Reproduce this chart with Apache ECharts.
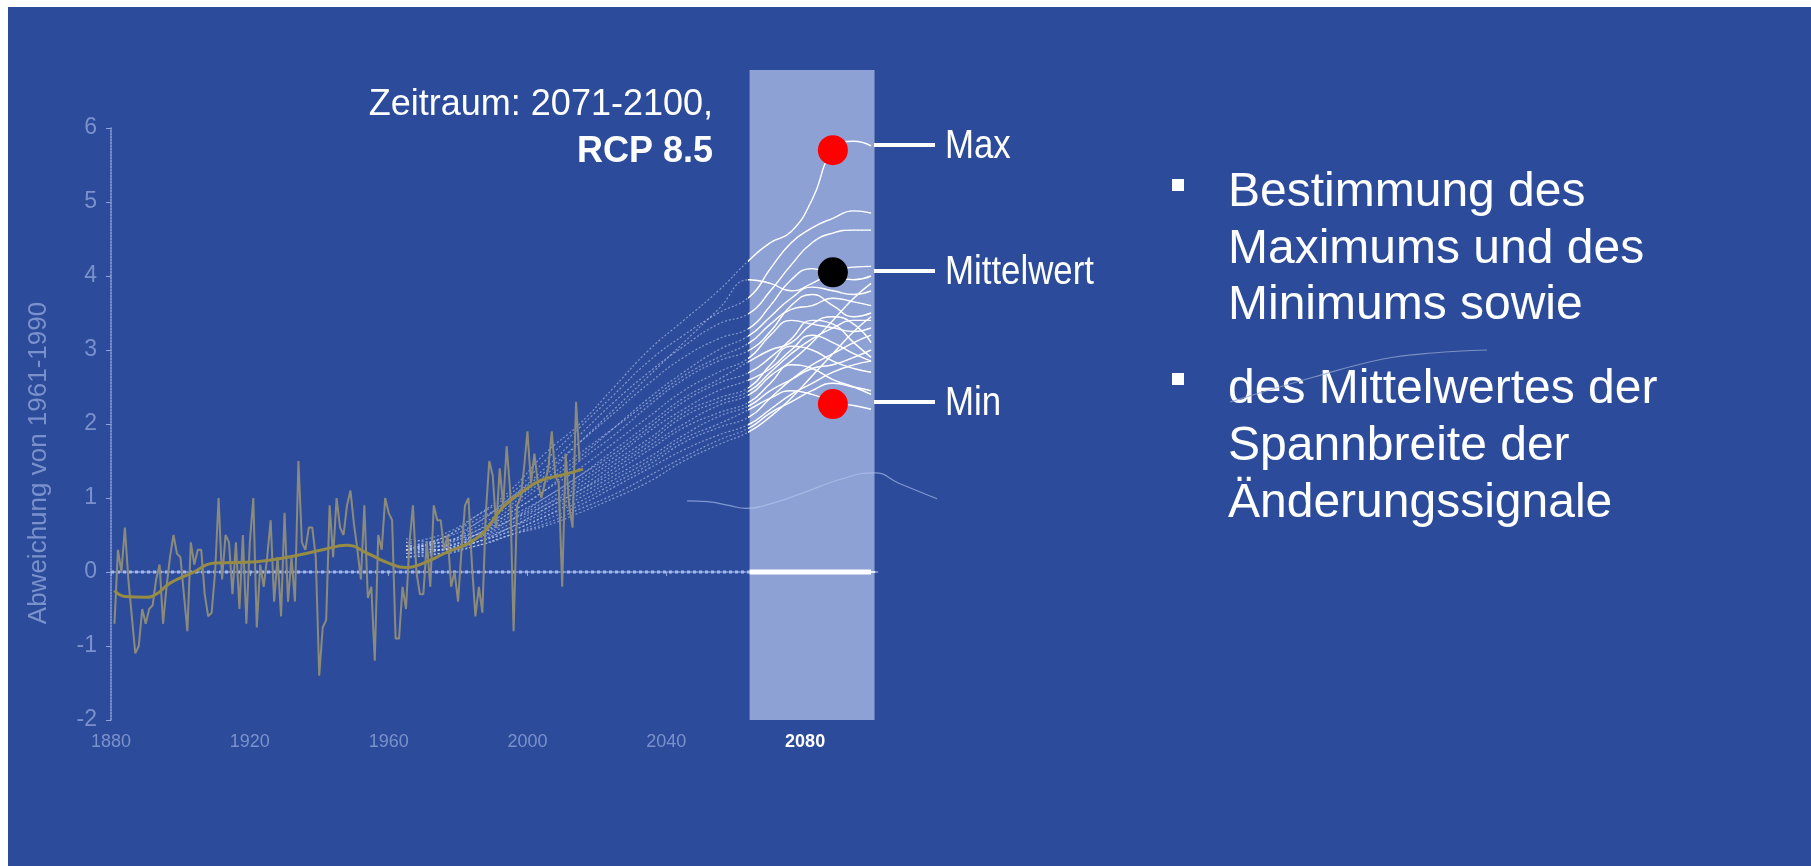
<!DOCTYPE html>
<html><head><meta charset="utf-8">
<script src="https://cdn.jsdelivr.net/npm/echarts@6.0.0/dist/echarts.min.js"></script>
<style>html,body{margin:0;padding:0;background:#fff;}#c{width:1811px;height:866px;}</style>
</head><body><div id="c"></div>
<script>
// ---------- data ----------
const obsStartYear = 1881;
const obsValues = [
  -0.7, 0.3, 0.0, 0.6, -0.1, -0.6, -1.1, -1.0, -0.5, -0.7,
  -0.5, -0.45, -0.1, 0.1, -0.7, -0.2, 0.2, 0.5, 0.25, 0.2,
  -0.3, -0.8, 0.4, 0.1, 0.3, 0.3, -0.3, -0.6, -0.55, 0.0,
  1.0, -0.1, 0.5, 0.4, -0.3, 0.4, -0.5, 0.5, -0.7, 0.4,
  1.0, -0.75, 0.1, -0.2, 0.2, 0.7, -0.4, 0.2, -0.6, 0.8,
  -0.4, 0.2, -0.4, 1.5, 0.4, 0.3, 0.6, 0.6, 0.2, -1.4,
  -0.75, -0.65, 0.9, 0.2, 1.0, 0.6, 0.5, 0.9, 1.1, 0.65,
  0.3, -0.1, 0.9, -0.35, -0.2, -1.2, 0.5, 0.3, 1.0, 0.8,
  0.7, -0.9, -0.9, -0.2, -0.5, 0.4, 0.9, 0.0, -0.3, -0.3,
  0.4, -0.2, 0.9, 0.7, 0.7, 0.3, 0.5, -0.2, 0.0, -0.4,
  0.3, 0.9, 1.0, 0.1, -0.6, -0.2, -0.55, 0.8, 1.5, 1.3,
  0.6, 1.4, 0.9, 1.7, 1.1, -0.8, 0.9, 1.0, 1.4, 1.9,
  1.2, 1.6, 1.2, 1.0, 1.2, 1.4, 1.9, 1.3, 1.2, -0.2,
  1.6, 0.9, 0.6, 2.3, 1.5
];
const trendYears  = [1881, 1884, 1890, 1893, 1897, 1903, 1910, 1922, 1932, 1941, 1948, 1954, 1960, 1965, 1970, 1976, 1986, 1993, 1999, 2004, 2010, 2016];
const trendValues = [-0.25, -0.33, -0.34, -0.30, -0.15, -0.02, 0.12, 0.14, 0.21, 0.30, 0.36, 0.25, 0.12, 0.06, 0.12, 0.25, 0.48, 0.88, 1.10, 1.24, 1.31, 1.39];

const projYears = [1965, 1975, 1985, 1995, 2005, 2015, 2025, 2035, 2045, 2055, 2064, 2070, 2076, 2082, 2088, 2094, 2099];
const projRuns = [
  [0.30,0.45,0.75,1.10,1.60,2.00,2.50,3.00,3.40,3.80,4.22,4.45,4.60,5.03,5.70,5.82,5.76],
  [0.40,0.50,0.75,1.05,1.50,1.95,2.40,2.85,3.20,3.50,3.72,4.10,4.45,4.65,4.78,4.88,4.85],
  [0.35,0.45,0.65,1.00,1.40,1.85,2.30,2.70,3.05,3.35,3.50,3.80,4.15,4.45,4.58,4.62,4.62],
  [0.30,0.45,0.70,0.95,1.30,1.75,2.20,2.65,3.10,3.55,3.95,3.90,3.80,3.90,4.05,4.12,4.13],
  [0.45,0.40,0.65,1.00,1.35,1.75,2.15,2.55,2.90,3.15,3.30,3.60,3.95,4.10,4.00,3.95,4.00],
  [0.25,0.35,0.55,0.85,1.20,1.55,1.95,2.35,2.70,3.00,3.20,3.45,3.70,3.85,3.80,3.75,3.80],
  [0.35,0.30,0.50,0.80,1.10,1.50,1.85,2.25,2.60,2.85,3.00,3.25,3.60,3.75,3.60,3.45,3.50],
  [0.30,0.40,0.55,0.80,1.10,1.40,1.75,2.10,2.45,2.70,2.90,3.20,3.40,3.35,3.30,3.25,3.30],
  [0.20,0.30,0.45,0.70,1.00,1.30,1.65,2.00,2.35,2.60,2.85,3.00,3.10,3.35,3.45,3.35,3.10],
  [0.40,0.35,0.50,0.75,1.00,1.30,1.60,1.95,2.30,2.55,2.70,2.90,3.15,3.40,3.35,3.10,2.90],
  [0.30,0.40,0.50,0.70,0.95,1.25,1.55,1.90,2.20,2.45,2.60,2.75,3.00,3.20,3.10,2.95,2.85],
  [0.25,0.30,0.45,0.65,0.90,1.20,1.50,1.80,2.15,2.35,2.50,2.80,3.05,3.00,2.85,2.75,2.70],
  [0.35,0.35,0.50,0.70,0.90,1.15,1.45,1.75,2.10,2.30,2.45,2.70,2.95,3.15,3.30,3.40,3.40],
  [0.30,0.30,0.40,0.60,0.85,1.10,1.40,1.70,2.00,2.25,2.40,2.65,2.85,3.10,3.40,3.70,3.90],
  [0.20,0.25,0.40,0.60,0.85,1.10,1.35,1.65,1.95,2.15,2.30,2.55,2.80,2.75,2.60,2.50,2.40],
  [0.30,0.35,0.45,0.60,0.80,1.05,1.30,1.55,1.85,2.10,2.25,2.45,2.60,2.75,2.80,2.90,3.00],
  [0.35,0.30,0.40,0.55,0.75,1.00,1.25,1.50,1.80,2.00,2.20,2.35,2.45,2.40,2.30,2.25,2.20],
  [0.25,0.30,0.40,0.55,0.75,0.95,1.20,1.45,1.75,1.95,2.10,2.35,2.60,2.80,2.95,3.10,3.20],
  [0.30,0.30,0.35,0.50,0.70,0.90,1.15,1.40,1.65,1.85,2.00,2.20,2.40,2.55,2.70,2.80,2.85],
  [0.20,0.25,0.35,0.50,0.65,0.85,1.05,1.30,1.55,1.78,1.95,2.15,2.30,2.45,2.55,2.50,2.45],
  [0.30,0.25,0.35,0.50,0.62,0.80,1.00,1.22,1.50,1.72,1.90,2.10,2.35,2.65,2.95,3.25,3.45],
  [0.35,0.40,0.60,0.90,1.25,1.60,1.95,2.30,2.65,2.90,3.10,3.35,3.55,3.60,3.70,3.65,3.60]
];
const lowYears  = [2046, 2052, 2058, 2063, 2070, 2080, 2090, 2100, 2107, 2118];
const lowValues = [0.96, 0.95, 0.90, 0.86, 0.92, 1.08, 1.25, 1.34, 1.20, 0.99];

const markerYear = 2088;
const maxValue = 5.70, meanValue = 4.05, minValue = 2.27;
const bandStart = 2064, bandEnd = 2100;
const zeroEnd = 2099;
const xTicks = [1880, 1920, 1960, 2000, 2040, 2080];
const highlightTick = 2080;
const yTicks = [-2, -1, 0, 1, 2, 3, 4, 5, 6];
const yAxisName = 'Abweichung von 1961-1990';
const periodText = 'Zeitraum: 2071-2100,';
const scenarioText = 'RCP 8.5';
const markerLabels = ['Max', 'Mittelwert', 'Min'];
const bullet1 = ['Bestimmung des', 'Maximums und des', 'Minimums sowie'];
const bullet2 = ['des Mittelwertes der', 'Spannbreite der', 'Änderungssignale'];

// ---------- layout ----------
const X_MIN = 1880, X_MAX = 2101, Y_MIN = -2, Y_MAX = 6;
const X_EXT = 2125; // wider hidden axis for the line that runs past the plot
const G = {left: 111, top: 128, width: 767, height: 592};
const pxYear = G.width / (X_MAX - X_MIN);
const pxUnit = G.height / (Y_MAX - Y_MIN);
const bandTopPx = 70;
const G2 = {
  left: G.left + (bandStart - X_MIN) * pxYear,
  width: (bandEnd - bandStart) * pxYear,
  top: bandTopPx,
  height: G.top + G.height - bandTopPx
};
const Y2_MAX = Y_MIN + G2.height / pxUnit;
const G3 = {left: G.left, top: G.top, width: (X_EXT - X_MIN) * pxYear, height: G.height};

const FONT = '"Liberation Sans", Arial, Helvetica, sans-serif';
const faint = '#7b91cb';
const pairs = (xs, ys) => xs.map((x, i) => [x, ys[i]]);

const series = [];
series.push({type: 'line', xAxisIndex: 0, yAxisIndex: 0, z: 4, symbol: 'none',
  data: obsValues.map((v, i) => [obsStartYear + i, v]),
  lineStyle: {color: '#8c8b7b', width: 2}});
series.push({type: 'line', xAxisIndex: 0, yAxisIndex: 0, z: 5, symbol: 'none', smooth: true,
  data: pairs(trendYears, trendValues), lineStyle: {color: '#978c45', width: 3}});
series.push({type: 'line', xAxisIndex: 0, yAxisIndex: 0, z: 3, symbol: 'none',
  data: [[X_MIN, 0], [bandStart, 0]], lineStyle: {color: '#a3b7ec', width: 3, type: 'dotted'}});
projRuns.forEach(r => series.push({type: 'line', xAxisIndex: 0, yAxisIndex: 0, z: 2, symbol: 'none', smooth: true,
  data: pairs(projYears, r), lineStyle: {color: 'rgba(200,214,248,0.55)', width: 1.2, type: [2, 2]}}));
projRuns.forEach(r => series.push({type: 'line', xAxisIndex: 1, yAxisIndex: 1, z: 6, symbol: 'none', smooth: true,
  data: pairs(projYears, r), lineStyle: {color: '#ffffff', width: 1.4}}));
series.push({type: 'line', xAxisIndex: 2, yAxisIndex: 2, z: 6, symbol: 'none', smooth: true,
  data: pairs(lowYears, lowValues), lineStyle: {color: 'rgba(185,200,240,0.6)', width: 1.2}});
series.push({type: 'line', xAxisIndex: 1, yAxisIndex: 1, z: 7, symbol: 'none',
  data: [[bandStart, 0], [zeroEnd, 0]], lineStyle: {color: '#ffffff', width: 5}});
[[maxValue, '#ff0000'], [meanValue, '#000000'], [minValue, '#ff0000']].forEach(([v, c]) =>
  series.push({type: 'scatter', xAxisIndex: 0, yAxisIndex: 0, z: 10, symbolSize: 30,
    data: [[markerYear, v]], itemStyle: {color: c, opacity: 1}}));

const graphic = [
  {type: 'rect', z: 100, shape: {x: 0, y: 0, width: 1811, height: 7}, style: {fill: '#fff'}},
  {type: 'rect', z: 100, shape: {x: 0, y: 0, width: 8, height: 866}, style: {fill: '#fff'}},
  {type: 'text', x: 39, y: 463, rotation: Math.PI / 2,
    style: {text: yAxisName, fill: faint, font: '26px ' + FONT, textAlign: 'center', textVerticalAlign: 'middle'}},
  {type: 'text', x: 713, y: 105, style: {text: periodText, fill: '#fff', font: '36px ' + FONT, textAlign: 'right', textVerticalAlign: 'middle'}},
  {type: 'text', x: 713, y: 152, style: {text: scenarioText, fill: '#fff', font: 'bold 36px ' + FONT, textAlign: 'right', textVerticalAlign: 'middle'}}
];
const labelYs = [145, 271, 402];
markerLabels.forEach((t, i) => {
  graphic.push({type: 'line', shape: {x1: 874, y1: labelYs[i], x2: 935, y2: labelYs[i]}, style: {stroke: '#fff', lineWidth: 4}});
  graphic.push({type: 'text', x: 945, y: labelYs[i] + 2, scaleX: 0.87,
    style: {text: t, fill: '#fff', font: '40px ' + FONT, textAlign: 'left', textVerticalAlign: 'middle'}});
});
const bulletYs1 = [193, 250, 306], bulletYs2 = [390, 447, 504];
graphic.push({type: 'rect', shape: {x: 1172, y: 179, width: 12, height: 12}, style: {fill: '#fff'}});
graphic.push({type: 'rect', shape: {x: 1172, y: 373, width: 12, height: 12}, style: {fill: '#fff'}});
bullet1.forEach((t, i) => graphic.push({type: 'text', x: 1228, y: bulletYs1[i],
  style: {text: t, fill: '#fff', font: '48px ' + FONT, textAlign: 'left', textVerticalAlign: 'middle'}}));
bullet2.forEach((t, i) => graphic.push({type: 'text', x: 1228, y: bulletYs2[i],
  style: {text: t, fill: '#fff', font: '48px ' + FONT, textAlign: 'left', textVerticalAlign: 'middle'}}));
graphic.push({type: 'polyline', z: 50, shape: {points: [[1230, 402], [1314, 377], [1383, 359], [1433, 353], [1487, 350]], smooth: 0.4},
  style: {stroke: 'rgba(150,165,205,0.75)', lineWidth: 1.2, fill: null}});

const hiddenAxis = {axisLine: {show: false}, axisTick: {show: false}, axisLabel: {show: false}, splitLine: {show: false}};

const chart = echarts.init(document.getElementById('c'), null, {renderer: 'canvas'});
chart.setOption({
  backgroundColor: '#2c4c9b',
  animation: false,
  textStyle: {fontFamily: FONT},
  grid: [
    {left: G.left, top: G.top, width: G.width, height: G.height, containLabel: false},
    {left: G2.left, top: G2.top, width: G2.width, height: G2.height, containLabel: false,
      show: true, backgroundColor: '#8ea1d4', borderWidth: 0},
    {left: G3.left, top: G3.top, width: G3.width, height: G3.height, containLabel: false}
  ],
  xAxis: [
    {gridIndex: 0, type: 'value', min: X_MIN, max: X_MAX, interval: 40,
      axisLine: {show: true, lineStyle: {color: '#8ea3da', type: 'dotted', width: 1.5}},
      axisTick: {show: true, length: 4, customValues: xTicks, lineStyle: {color: '#8ea3da'}},
      axisLabel: {show: true, margin: 13, customValues: xTicks,
        formatter: v => xTicks.indexOf(v) < 0 ? '' : (v === highlightTick ? '{h|' + v + '}' : '{n|' + v + '}'),
        rich: {n: {color: faint, fontSize: 18, fontFamily: FONT}, h: {color: '#ffffff', fontSize: 18, fontWeight: 'bold', fontFamily: FONT}}},
      splitLine: {show: false}},
    Object.assign({gridIndex: 1, type: 'value', min: bandStart, max: bandEnd}, hiddenAxis,
      {axisLine: {show: true, lineStyle: {color: '#e8eefc', type: 'dashed', width: 2}}}),
    Object.assign({gridIndex: 2, type: 'value', min: X_MIN, max: X_EXT}, hiddenAxis)
  ],
  yAxis: [
    {gridIndex: 0, type: 'value', min: Y_MIN, max: Y_MAX, interval: 1,
      axisLine: {show: true, lineStyle: {color: '#8ea3da', type: 'dotted', width: 1.5}},
      axisTick: {show: true, length: 5, lineStyle: {color: '#8ea3da'}},
      axisLabel: {show: true, margin: 14, color: faint, fontSize: 23, fontFamily: FONT},
      splitLine: {show: false}},
    Object.assign({gridIndex: 1, type: 'value', min: Y_MIN, max: Y2_MAX}, hiddenAxis),
    Object.assign({gridIndex: 2, type: 'value', min: Y_MIN, max: Y_MAX}, hiddenAxis)
  ],
  series: series,
  graphic: graphic
});
</script>
</body></html>
